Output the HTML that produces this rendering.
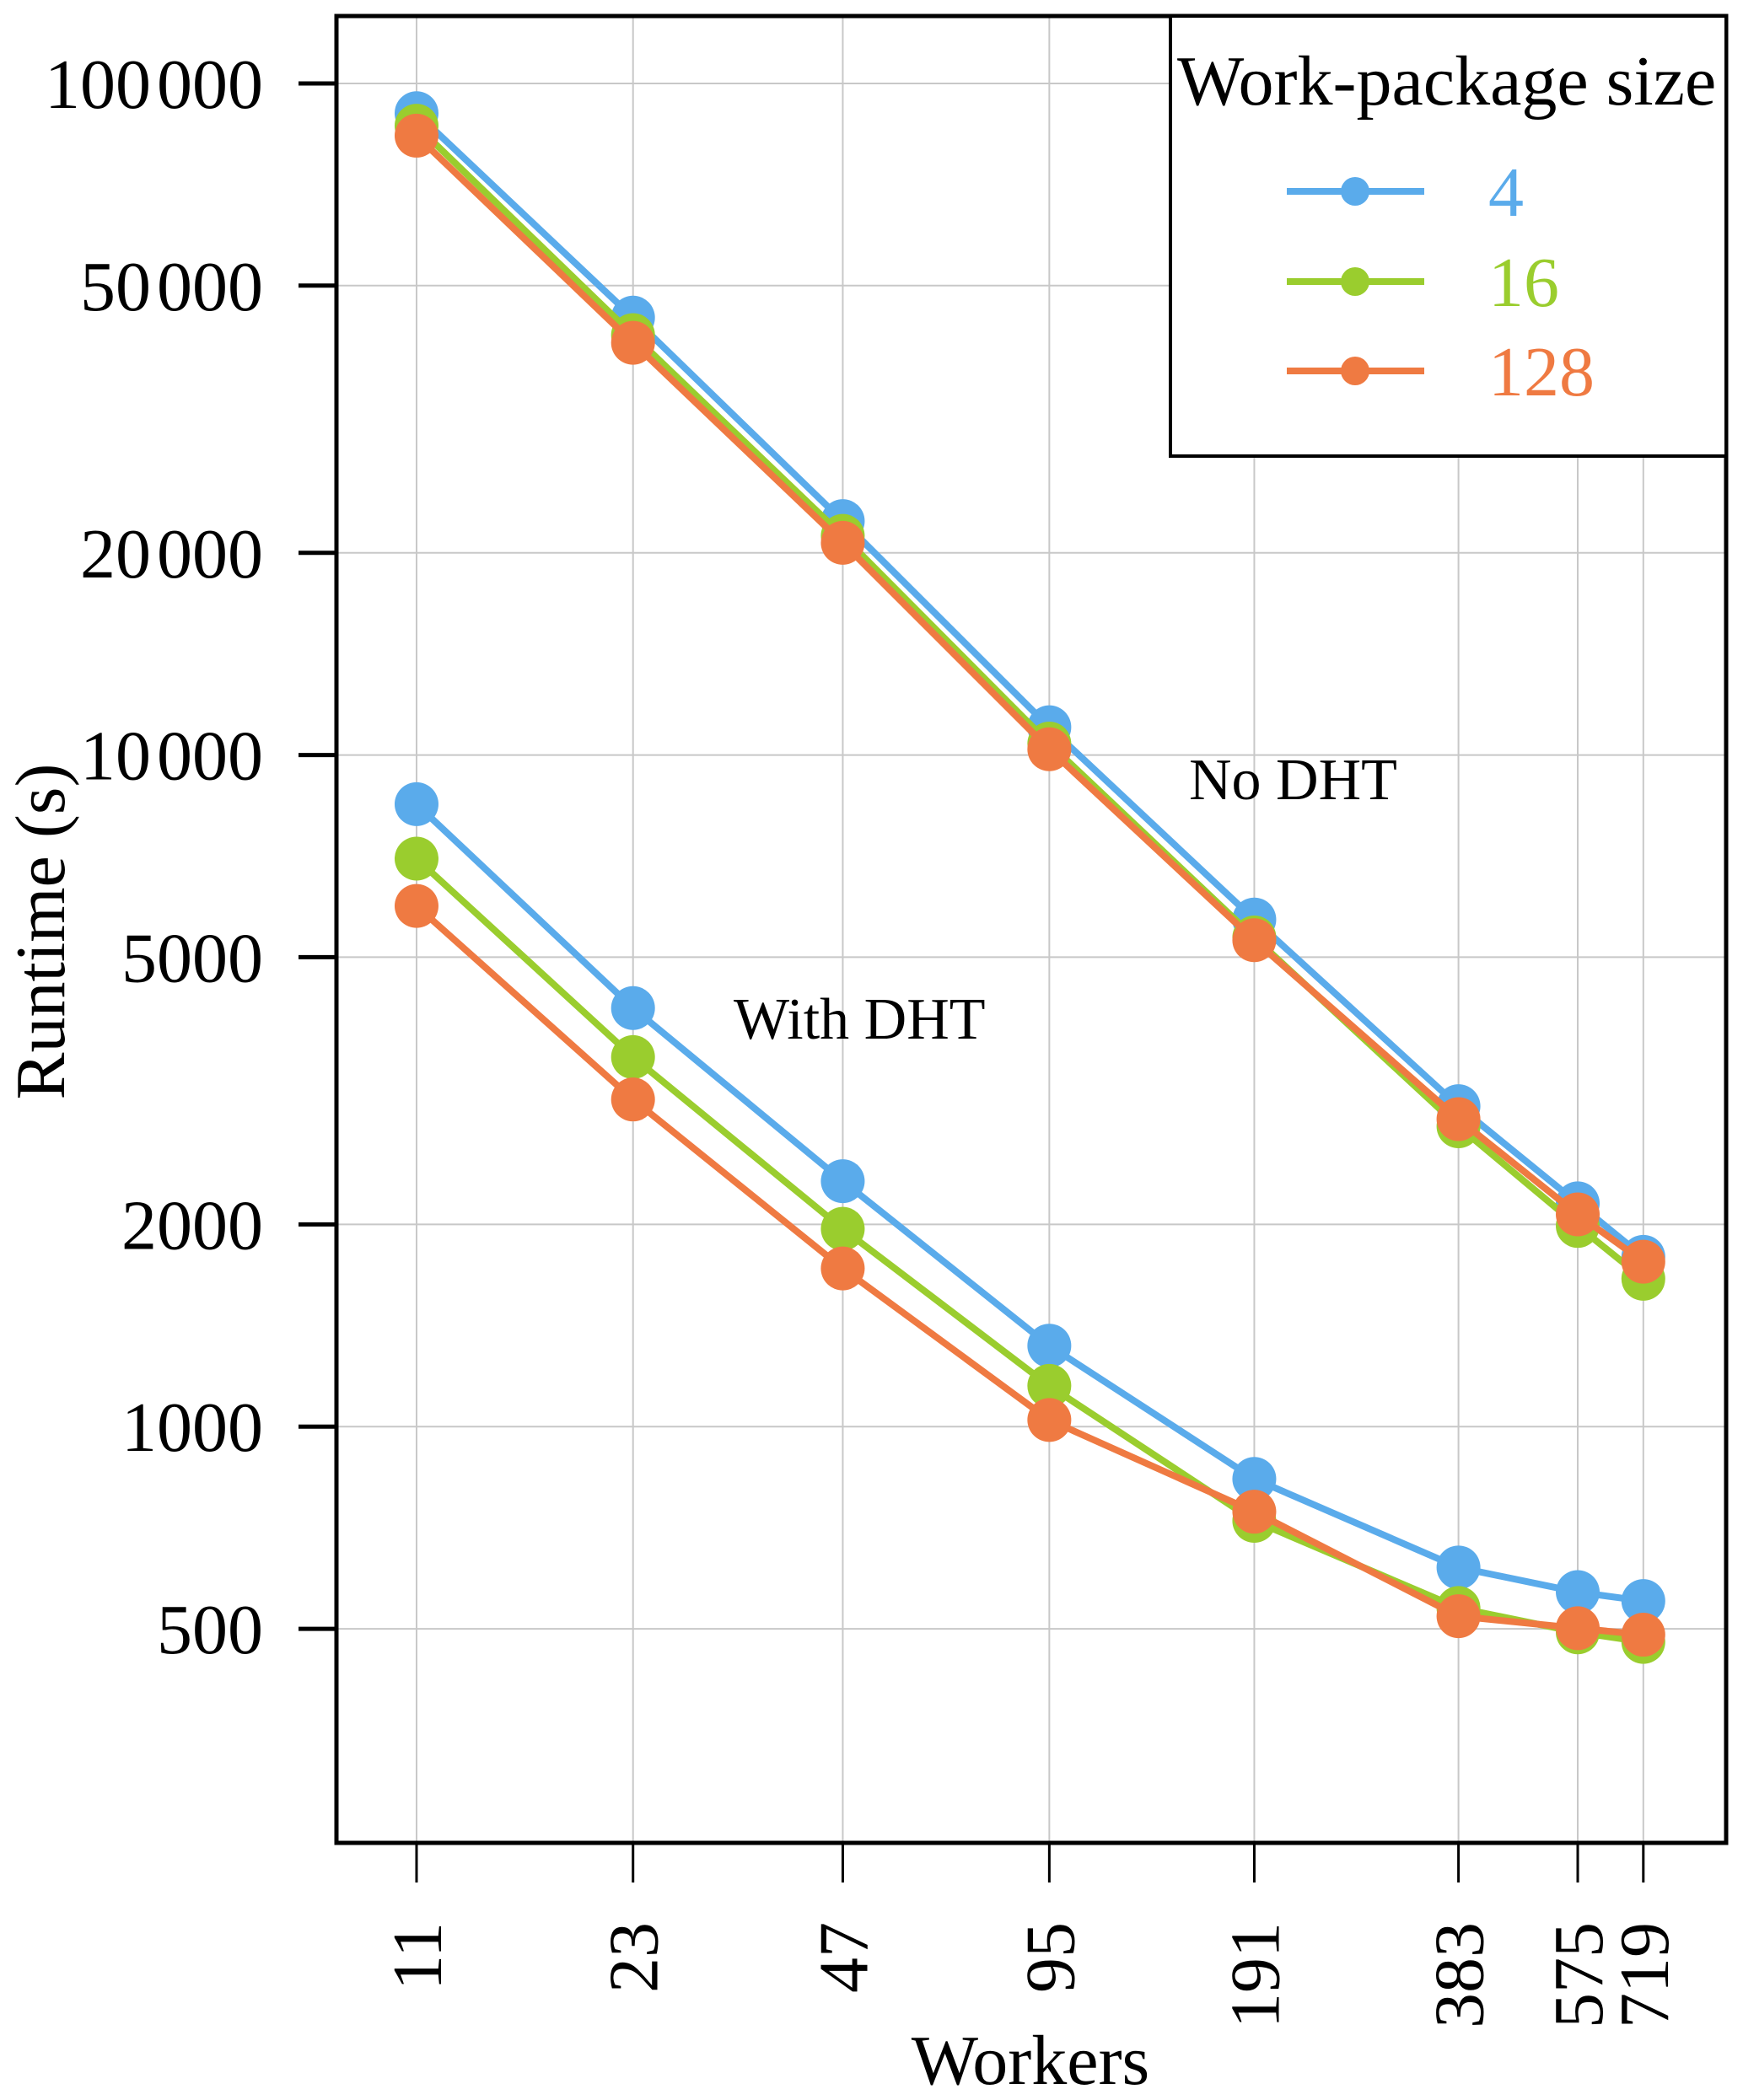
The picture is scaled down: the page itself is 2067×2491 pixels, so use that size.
<!DOCTYPE html>
<html><head><meta charset="utf-8"><style>
html,body{margin:0;padding:0;background:#fff}
svg{display:block;font-family:"Liberation Serif",serif}
</style></head><body>
<svg id="chart" width="2067" height="2491" viewBox="0 0 2067 2491" xmlns="http://www.w3.org/2000/svg"></svg>
<script>
const workers = [11, 23, 47, 95, 191, 383, 575, 719];
const yTicks = [500, 1000, 2000, 5000, 10000, 20000, 50000, 100000];
const yTickLabels = ["500", "1000", "2000", "5000", "10\u200A000", "20\u200A000", "50\u200A000", "100\u200A000"];
const seriesNames = ["4", "16", "128"];
const noDht4 = [90300, 44800, 22300, 11000, 5690, 3000, 2150, 1790];
const noDht16 = [86500, 42200, 21200, 10400, 5350, 2800, 1990, 1660];
const noDht128 = [83600, 41100, 20700, 10200, 5300, 2870, 2070, 1760];
const dht4 = [8450, 4200, 2320, 1320, 836, 617, 567, 550];
const dht16 = [7010, 3550, 1970, 1150, 724, 537, 494, 478];
const dht128 = [5960, 3070, 1720, 1023, 747, 522, 501, 490];

const colors = ["#5aabeb", "#9acd2e", "#ef7a42"];
const L = 399, T = 19, R = 2047, B = 2186;
const xLnMin = 2.125, xLnMax = 6.86;
const yLogMin = Math.log10(240), yLogMax = Math.log10(126000);
const NS = "http://www.w3.org/2000/svg";
const svg = document.getElementById('chart');
function X(v){ return L + (Math.log(v) - xLnMin) / (xLnMax - xLnMin) * (R - L); }
function Y(v){ return B - (Math.log10(v) - yLogMin) / (yLogMax - yLogMin) * (B - T); }
function mk(tag, attrs, parent){
  const e = document.createElementNS(NS, tag);
  for (const k in attrs) e.setAttribute(k, attrs[k]);
  (parent || svg).appendChild(e);
  return e;
}
const grid = mk('g', {});


workers.forEach(w => {
  const l = mk('line', {x1: X(w), x2: X(w), y1: T, y2: B, stroke: '#c8c8c8', 'stroke-width': 2}, grid);
  
  
});
yTicks.forEach(v => {
  const l = mk('line', {x1: L, x2: R, y1: Y(v), y2: Y(v), stroke: '#c8c8c8', 'stroke-width': 2}, grid);
  
  
});
yTicks.forEach((v, i) => {
  const t = mk('line', {x1: 354, x2: L, y1: Y(v), y2: Y(v), stroke: '#000', 'stroke-width': 5});
  
  
  const tx = mk('text', {x: 312, y: Y(v) + 29, 'text-anchor': 'end', 'font-size': 84});
  tx.textContent = yTickLabels[i];
  
  
});
workers.forEach(w => {
  const t = mk('line', {x1: X(w), x2: X(w), y1: B, y2: 2233, stroke: '#000', 'stroke-width': 3});
  
  
  const tx = mk('text', {x: 0, y: 0, 'text-anchor': 'end', 'font-size': 84, transform: `translate(${X(w) + 29},2280) rotate(-90)`});
  tx.textContent = String(w);
  
  
});
const groups = [[noDht4, dht4], [noDht16, dht16], [noDht128, dht128]];
groups.forEach((pair, si) => {
  pair.forEach((vals, pi) => {
    const g = mk('g', {});
    
    
    const pts = vals.map((v, i) => X(workers[i]) + ',' + Y(v)).join(' ');
    const pl = mk('polyline', {points: pts, fill: 'none', stroke: colors[si], 'stroke-width': 8, 'stroke-linejoin': 'round'}, g);
    
    
    vals.forEach((v, i) => {
      const c = mk('circle', {cx: X(workers[i]), cy: Y(v), r: 26, fill: colors[si]}, g);
      
      
    });
  });
});
const fr = mk('rect', {x: L, y: T, width: R - L, height: B - T, fill: 'none', stroke: '#000', 'stroke-width': 5});


const a1 = mk('text', {x: 1410, y: 948, 'font-size': 70});
a1.textContent = 'No DHT';


const a2 = mk('text', {x: 870, y: 1232, 'font-size': 70});
a2.textContent = 'With DHT';


const xt = mk('text', {x: 1222, y: 2472, 'text-anchor': 'middle', 'font-size': 84});
xt.textContent = 'Workers';


const yt = mk('text', {x: 0, y: 0, 'text-anchor': 'middle', 'font-size': 84, transform: 'translate(76,1105) rotate(-90)'});
yt.textContent = 'Runtime (s)';


const lg = mk('g', {});


const lb = mk('rect', {x: 1388, y: T, width: R - 1388, height: 522, fill: '#fff', stroke: '#000', 'stroke-width': 4}, lg);


const ltt = mk('text', {x: 1396, y: 124, 'font-size': 84}, lg);
ltt.textContent = 'Work-package size';


const legY = [227, 334, 440];
seriesNames.forEach((n, i) => {
  const e = mk('g', {}, lg);
  
  
  mk('line', {x1: 1526, x2: 1689, y1: legY[i], y2: legY[i], stroke: colors[i], 'stroke-width': 8}, e);
  mk('circle', {cx: 1607, cy: legY[i], r: 17, fill: colors[i]}, e);
  const t = mk('text', {x: 1765, y: legY[i] + 29, 'font-size': 84, fill: colors[i]}, e);
  t.textContent = n;
});
</script>
</body></html>
